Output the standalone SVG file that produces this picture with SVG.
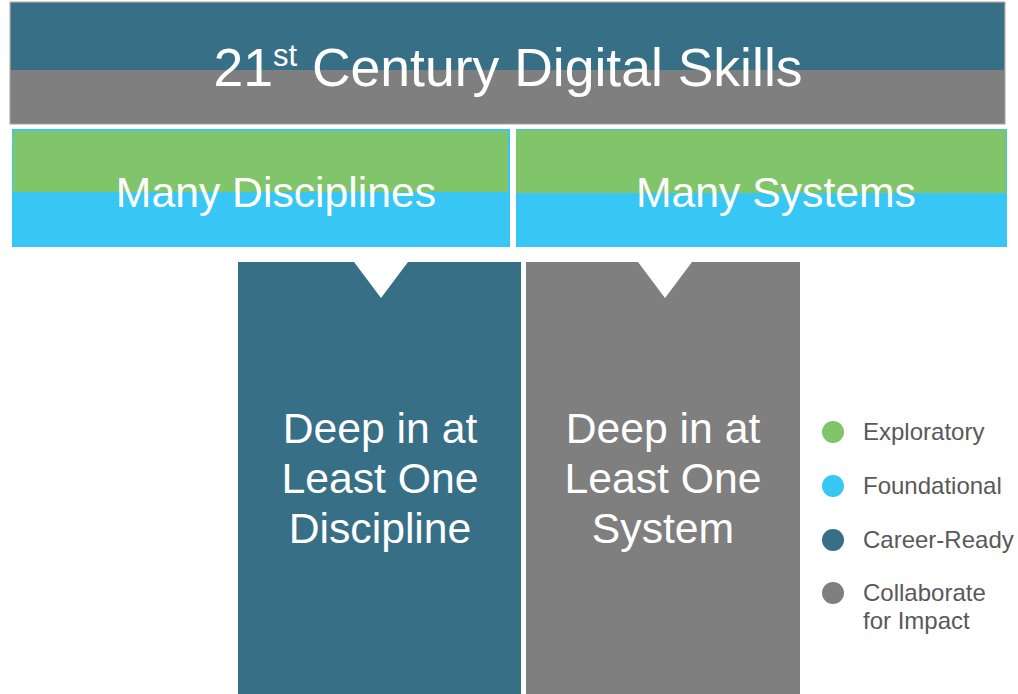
<svg xmlns="http://www.w3.org/2000/svg" width="1018" height="694" viewBox="0 0 1018 694" font-family="'Liberation Sans', Arimo, Arial, Helvetica, sans-serif">
<style>
text{font-family:'Liberation Sans',Arimo,Arial,Helvetica,sans-serif}
.w{fill:#fff}
.teal{fill:#376f86}
.gray{fill:#7f7f7f}
.green{fill:#80c56a}
.cyan{fill:#38c6f4}
.big{font-size:42.7px}
.leg{fill:#595959;font-size:24px}
</style>
<rect width="1018" height="694" fill="#fff"/>
<g id="title">
<rect x="10" y="2" width="995" height="122" class="gray" stroke="#a6a6a6" stroke-width="1"/>
<rect x="11" y="3" width="993" height="67" class="teal"/>
<text x="508" y="86" text-anchor="middle" class="w" font-size="53.5">21<tspan font-size="31" dy="-20">st</tspan><tspan dy="20"> Century Digital Skills</tspan></text>
</g>
<g id="disciplines">
<rect x="12" y="129" width="498" height="118" class="cyan"/>
<rect x="13" y="131" width="495" height="61" class="green"/>
<text x="276" y="207" text-anchor="middle" class="w big">Many Disciplines</text>
</g>
<g id="systems">
<rect x="516" y="129" width="491" height="118" class="cyan"/>
<rect x="516" y="130" width="490" height="63" class="green"/>
<text x="776" y="207" text-anchor="middle" class="w big">Many Systems</text>
</g>
<g id="deep-discipline">
<path d="M238,262 H354 L381,298 L408,262 H521 V694 H238 Z" class="teal"/>
<text text-anchor="middle" class="w big"><tspan x="380" y="443">Deep in at</tspan><tspan x="380" y="493">Least One</tspan><tspan x="380" y="543">Discipline</tspan></text>
</g>
<g id="deep-system">
<path d="M526,262 H638 L665,298 L692,262 H800 V694 H526 Z" class="gray"/>
<text text-anchor="middle" class="w big"><tspan x="663" y="443">Deep in at</tspan><tspan x="663" y="493">Least One</tspan><tspan x="663" y="543">System</tspan></text>
</g>
<g id="legend">
<circle cx="833" cy="432" r="11" class="green"/>
<text x="863" y="440" class="leg">Exploratory</text>
<circle cx="833" cy="486" r="11" class="cyan"/>
<text x="863" y="494" class="leg">Foundational</text>
<circle cx="833" cy="540" r="11" class="teal"/>
<text x="863" y="548" class="leg">Career-Ready</text>
<circle cx="833" cy="593" r="11" class="gray"/>
<text class="leg"><tspan x="863" y="601">Collaborate</tspan><tspan x="863" y="629">for Impact</tspan></text>
</g>
<g id="connectors"/>
</svg>
